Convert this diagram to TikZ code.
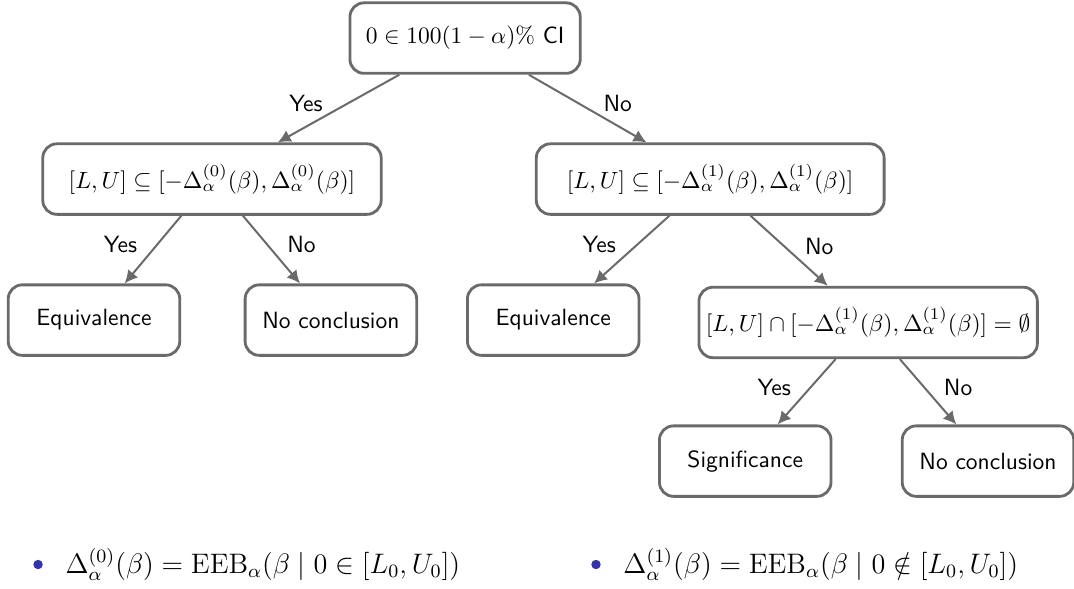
\documentclass[tikz,border=0pt]{standalone}
\usepackage{amsmath}
\usepackage{amssymb}
\usepackage{xcolor}
\usetikzlibrary{arrows.meta, positioning}
\definecolor{TreeGray}{HTML}{6A6A6A}
\definecolor{BulletBlue}{RGB}{51,51,178}

\begin{document}
\begin{tikzpicture}[
    box/.style={
      rectangle, rounded corners=6pt, draw=TreeGray, line width=1.2pt, fill=white,
      minimum width=73pt, minimum height=30pt, inner xsep=3pt, align=center, font=\sffamily
    },
    arr/.style={-{Latex[length=5.5pt, width=5.5pt]}, line width=0.85pt, color=TreeGray},
    yes/.style={midway, left=3pt, yshift=2pt, font=\sffamily, text=black},
    no/.style={midway, right=3pt, yshift=2pt, font=\sffamily, text=black},
    bul/.style={circle, fill=BulletBlue, inner sep=0pt, minimum size=4pt},
    defn/.style={inner sep=0pt, font=\fontsize{11.5pt}{14pt}\selectfont}
  ]
    \useasboundingbox (-197.9pt,16.2pt) rectangle (259.1pt,-234pt);

    % decision tree
    \node[box, minimum width=98pt] (root) at (0,0) {$0 \in 100(1-\alpha)\%$ CI};
    \node[box, minimum width=144pt, on grid, below left=60pt and 107.7pt of root] (zero)
      {$[L,U] \subseteq [-\Delta_\alpha^{(0)}(\beta), \Delta_\alpha^{(0)}(\beta)]$};
    \node[box, minimum width=148pt, on grid, below right=60pt and 104.3pt of root] (one)
      {$[L,U] \subseteq [-\Delta_\alpha^{(1)}(\beta), \Delta_\alpha^{(1)}(\beta)]$};
    \node[box, on grid, below left=60pt and 50.2pt of zero] (equivA) {Equivalence};
    \node[box, on grid, below right=60pt and 50.6pt of zero] (noconA) {No conclusion};
    \node[box, on grid, below left=60pt and 66.8pt of one] (equivB) {Equivalence};
    \node[box, on grid, below right=61pt and 67.2pt of one] (disj)
      {$[L,U] \cap [-\Delta_\alpha^{(1)}(\beta), \Delta_\alpha^{(1)}(\beta)] = \emptyset$};
    \node[box, on grid, below left=59pt and 52.3pt of disj] (signif) {Significance};
    \node[box, on grid, below right=59pt and 51pt of disj] (noconB) {No conclusion};

    \draw[arr] (root) -- node[yes]{Yes} (zero);
    \draw[arr] (root) -- node[no]{No} (one);
    \draw[arr] (zero) -- node[yes]{Yes} (equivA);
    \draw[arr] (zero) -- node[no]{No} (noconA);
    \draw[arr] (one) -- node[yes]{Yes} (equivB);
    \draw[arr] (one) -- node[no]{No} (disj);
    \draw[arr] (disj) -- node[yes]{Yes} (signif);
    \draw[arr] (disj) -- node[no]{No} (noconB);

    % definitions
    \node[bul] (dotA) at (-181.7pt,-224pt) {};
    \node[defn, right=9.3pt of dotA] (defA)
      {$\Delta_\alpha^{(0)}(\beta) = \mathrm{EEB}_\alpha(\beta \mid 0 \in [L_0, U_0])$};
    \node[bul] (dotB) at (55.7pt,-224pt) {};
    \node[defn, right=9.3pt of dotB] (defB)
      {$\Delta_\alpha^{(1)}(\beta) = \mathrm{EEB}_\alpha(\beta \mid 0 \notin [L_0, U_0])$};
  \end{tikzpicture}
\end{document}
